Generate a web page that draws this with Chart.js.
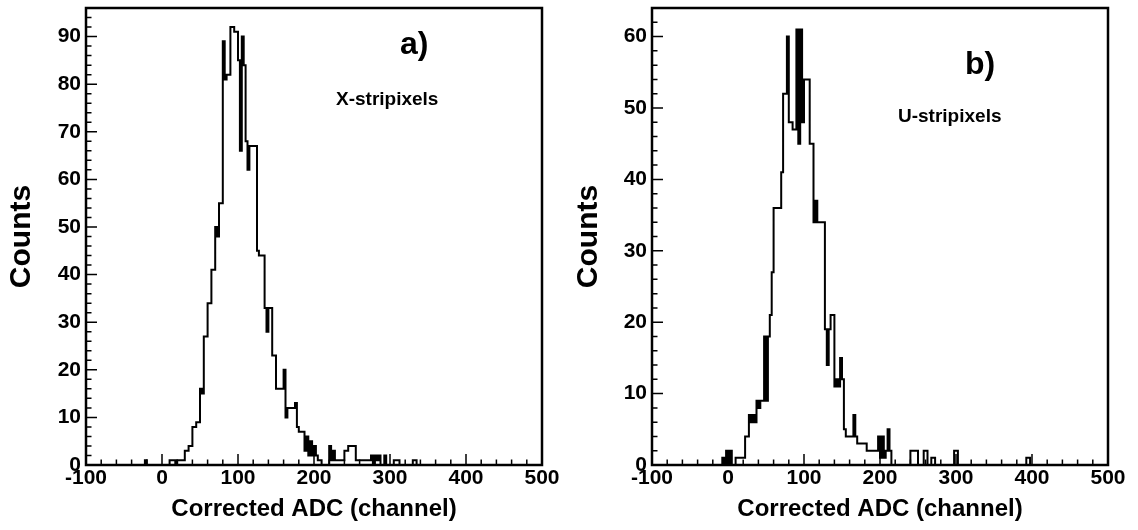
<!DOCTYPE html>
<html>
<head>
<meta charset="utf-8">
<script src="https://cdn.jsdelivr.net/npm/chart.js@4.4.1/dist/chart.umd.min.js"></script>
<style>
  html, body { margin: 0; padding: 0; background: #fff; }
  #wrap { position: relative; width: 1138px; height: 530px; overflow: hidden; }
  #wrap canvas { position: absolute; top: 0; }
</style>
</head>
<body>
<div id="wrap">
  <canvas id="panelX" width="569" height="530" style="left:0"></canvas>
  <canvas id="panelU" width="569" height="530" style="left:569px"></canvas>
</div>
<script>
// Histogram binning (Corrected ADC, in channels)
const BIN_WIDTH = 2.5;
const adcTicks = [-100, 0, 100, 200, 300, 400, 500];

// X-stripixels: counts per bin, first bin starting at xStripFirstEdge
const xStripFirstEdge = -30;
const xStripCounts = [
  0, 0, 0, 1, 0, 0, 0, 0, 0, 0, 0, 0,          // -30 .. 0
  0, 0, 0, 0, 1, 1, 1, 0, 1, 1, 1, 1,          // 0 .. 30
  3, 3, 4, 4, 8, 8, 9, 9, 16, 15, 27, 27,      // 30 .. 60
  34, 34, 41, 41, 50, 48, 55, 55, 89, 81, 82, 82, // 60 .. 90
  92, 92, 91, 91, 85, 66, 90, 84, 68, 62, 67, 67, // 90 .. 120
  67, 67, 45, 44, 44, 44, 33, 28, 33, 33, 23, 23, // 120 .. 150
  16, 16, 16, 16, 20, 10, 12, 12, 12, 12, 13, 8,  // 150 .. 180
  7, 7, 7, 3, 6, 2, 5, 2, 4, 2, 1, 1,          // 180 .. 210
  0, 0, 0, 0, 4, 1, 3, 1, 1, 1, 1, 1,          // 210 .. 240
  3, 3, 4, 4, 4, 4, 1, 1, 1, 1, 1, 1,          // 240 .. 270
  1, 1, 2, 0, 2, 1, 2, 0, 0, 2, 0, 0,          // 270 .. 300
  0, 0, 1, 1, 1, 0, 0, 0, 0, 0, 0, 0,          // 300 .. 330
  1, 1, 0                                      // 330 .. 337.5
];
const xStripCountTicks = [0, 10, 20, 30, 40, 50, 60, 70, 80, 90];

// U-stripixels: counts per bin, first bin starting at uStripFirstEdge
const uStripFirstEdge = -10;
const uStripCounts = [
  0, 1, 0, 2,                                  // -10 .. 0
  0, 2, 0, 0, 1, 1, 1, 1, 1, 4, 4, 7,          // 0 .. 30
  6, 7, 6, 9, 8, 9, 9, 18, 9, 18, 21, 27,      // 30 .. 60
  36, 36, 36, 36, 41, 52, 52, 60, 48, 48, 47, 47, // 60 .. 90
  61, 45, 61, 48, 54, 54, 54, 45, 45, 34, 37, 34, // 90 .. 120
  34, 34, 34, 19, 14, 19, 21, 21, 11, 12, 11, 15, // 120 .. 150
  12, 5, 4, 4, 4, 4, 7, 4, 3, 3, 3, 3,         // 150 .. 180
  3, 2, 2, 2, 2, 2, 2, 4, 1, 4, 1, 2,          // 180 .. 210
  5, 2, 0, 0, 0, 0, 0, 0, 0, 0, 0, 0,          // 210 .. 240
  2, 2, 2, 2, 0, 0, 0, 2, 2, 0, 0, 1,          // 240 .. 270
  1, 0, 0, 0, 0, 0, 0, 0, 0, 0, 0, 2,          // 270 .. 300
  2, 0, 0, 0, 0, 0, 0, 0, 0, 0, 0, 0,          // 300 .. 330
  0, 0, 0, 0, 0, 0, 0, 0, 0, 0, 0, 0,          // 330 .. 360
  0, 0, 0, 0, 0, 0, 0, 0, 0, 0, 0, 0,          // 360 .. 390
  0, 1, 1, 0                                   // 390 .. 400
];
const uStripCountTicks = [0, 10, 20, 30, 40, 50, 60];

const FONT = '"Liberation Sans", Arial, Helvetica, sans-serif';

// Left bin edges paired with counts; a closing edge brings the line back to zero
function histogramPoints(firstEdge, counts) {
  const pts = counts.map((c, i) => ({ x: firstEdge + i * BIN_WIDTH, y: c }));
  pts.push({ x: firstEdge + counts.length * BIN_WIDTH, y: 0 });
  return pts;
}

// Frame around the plot area plus inward tick marks on the bottom and left axes
const frameTicks = {
  id: 'frameTicks',
  afterDatasetsDraw(chart, args, opts) {
    const { ctx, chartArea: a, scales: { x, y } } = chart;
    ctx.save();
    ctx.strokeStyle = '#000';
    ctx.lineWidth = 1.5;
    ctx.beginPath();
    for (let v = x.min; v <= x.max + 1e-6; v += opts.xMinor) {
      const px = x.getPixelForValue(v);
      const len = Math.abs(v % opts.xMajor) < 1e-6 ? opts.majorLen : opts.minorLen;
      ctx.moveTo(px, a.bottom);
      ctx.lineTo(px, a.bottom - len);
    }
    for (let v = y.min; v <= y.max + 1e-6; v += opts.yMinor) {
      const py = y.getPixelForValue(v);
      const len = Math.abs(v % opts.yMajor) < 1e-6 ? opts.majorLen : opts.minorLen;
      ctx.moveTo(a.left, py);
      ctx.lineTo(a.left + len, py);
    }
    ctx.stroke();
    ctx.lineWidth = 2.5;
    ctx.strokeRect(a.left, a.top, a.right - a.left, a.bottom - a.top);
    ctx.restore();
  }
};

// Panel tag and detector label inside the frame
const panelText = {
  id: 'panelText',
  afterDraw(chart, args, opts) {
    const { ctx, chartArea: a } = chart;
    ctx.save();
    ctx.fillStyle = '#000';
    ctx.textBaseline = 'middle';
    ctx.textAlign = 'left';
    ctx.font = 'bold 32px ' + FONT;
    ctx.fillText(opts.tag, a.left + opts.tagX, a.top + opts.tagY);
    ctx.font = 'bold 19px ' + FONT;
    ctx.fillText(opts.label, a.left + opts.labelX, a.top + opts.labelY);
    ctx.restore();
  }
};

function makePanel(id, firstEdge, counts, yMax, countTicks, layoutPad, yWidth, countsTitlePad, text) {
  return new Chart(document.getElementById(id), {
    type: 'line',
    data: {
      datasets: [{
        data: histogramPoints(firstEdge, counts),
        stepped: 'before',
        borderColor: '#000',
        borderWidth: 2,
        pointRadius: 0,
        fill: false,
        tension: 0
      }]
    },
    options: {
      responsive: false,
      animation: false,
      devicePixelRatio: 1,
      events: [],
      layout: { padding: layoutPad },
      plugins: {
        legend: { display: false },
        tooltip: { enabled: false },
        frameTicks: { xMinor: 20, xMajor: 100, yMinor: 2, yMajor: 10, majorLen: 11, minorLen: 5.5 },
        panelText: text
      },
      scales: {
        x: {
          type: 'linear',
          min: -100,
          max: 500,
          afterBuildTicks: s => { s.ticks = adcTicks.map(v => ({ value: v })); },
          afterFit: s => { s.height = 65; s.paddingLeft = 0; s.paddingRight = 0; },
          grid: { display: false, drawTicks: false },
          border: { display: false },
          ticks: {
            color: '#000', autoSkip: false, maxRotation: 0, padding: 1,
            font: { family: FONT, weight: 'bold', size: 21 }
          },
          title: {
            display: true, text: 'Corrected ADC (channel)', color: '#000',
            font: { family: FONT, weight: 'bold', size: 24 },
            padding: { top: 0, bottom: 6 }
          }
        },
        y: {
          type: 'linear',
          min: 0,
          max: yMax,
          afterBuildTicks: s => { s.ticks = countTicks.map(v => ({ value: v })); },
          afterFit: s => { s.width = yWidth; s.paddingTop = 0; s.paddingBottom = 0; },
          grid: { display: false, drawTicks: false },
          border: { display: false },
          ticks: {
            color: '#000', autoSkip: false, padding: 5,
            font: { family: FONT, weight: 'bold', size: 21 }
          },
          title: {
            display: true, text: 'Counts', color: '#000',
            font: { family: FONT, weight: 'bold', size: 30 },
            padding: { top: countsTitlePad, bottom: 0 }
          }
        }
      }
    },
    plugins: [frameTicks, panelText]
  });
}

makePanel('panelX', xStripFirstEdge, xStripCounts, 96, xStripCountTicks,
  { left: 0, right: 27, top: 8, bottom: 0 }, 86, 4,
  { tag: 'a)', tagX: 314, tagY: 37, label: 'X-stripixels', labelX: 250, labelY: 92 });

makePanel('panelU', uStripFirstEdge, uStripCounts, 64, uStripCountTicks,
  { left: 0, right: 30, top: 8, bottom: 0 }, 83, 2,
  { tag: 'b)', tagX: 313, tagY: 57, label: 'U-stripixels', labelX: 246, labelY: 109 });
</script>
</body>
</html>
